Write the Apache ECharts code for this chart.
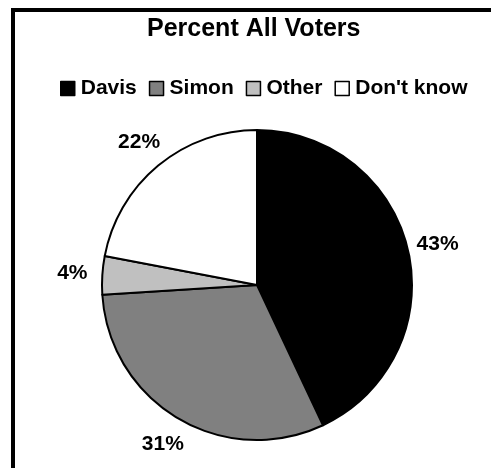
<!DOCTYPE html>
<html><head><meta charset="utf-8">
<script src="https://cdn.jsdelivr.net/npm/echarts@6/dist/echarts.min.js"></script>
<style>html,body{margin:0;padding:0;background:#fff}#c{width:491px;height:468px}</style>
</head><body><div id="c"></div>
<script>
const categories = ["Davis", "Simon", "Other", "Don't know"];
const values = [43, 31, 4, 22];
const colors = ["#000000", "#808080", "#c0c0c0", "#ffffff"];
const titleText = "Percent All Voters";

const FONT = 'Liberation Sans, Arial, sans-serif';
const chart = echarts.init(document.getElementById('c'));
chart.setOption({
  animation: false,
  backgroundColor: '#fff',
  graphic: [{type:'rect', z: 100, shape:{x:13, y:10, width:520, height:520}, style:{fill:'none', stroke:'#000', lineWidth:4}}],
  title: {text: titleText, left: 147, top: 17, padding: 0,
    textStyle:{fontFamily: FONT, fontWeight:'bold', fontSize:25, color:'#000'}},
  legend: {data: categories, top: 78, left: 60, padding: 0, itemWidth: 14, itemHeight: 14, itemGap: 12,
    icon: 'rect', selectedMode: false,
    textStyle:{fontFamily: FONT, fontWeight:'bold', fontSize:21, color:'#000', padding:[0,0,0,1]},
    itemStyle:{borderColor:'#000', borderWidth:1.5}},
  series: [{
    type: 'pie', center: [257, 285], radius: 155, startAngle: 90, clockwise: true,
    data: categories.map((c,i)=>({name:c, value: values[i], itemStyle:{color: colors[i]}})),
    itemStyle: {borderColor:'#000', borderWidth:2},
    label: {show:false},
    emphasis: {disabled: true}
  }, {
    type: 'pie', center: [257, 285], radius: [175, 189], startAngle: 90, clockwise: true,
    silent: true, legendHoverLink: false,
    data: categories.map((c,i)=>({name:c, value: values[i]})),
    itemStyle: {color:'rgba(0,0,0,0)', borderWidth:0},
    label: {show:true, position:'inside', formatter: '{c}%', fontFamily: FONT, fontWeight:'bold', fontSize:21, color:'#000'},
    labelLine: {show:false},
    emphasis: {disabled: true}
  }]
});
</script></body></html>
